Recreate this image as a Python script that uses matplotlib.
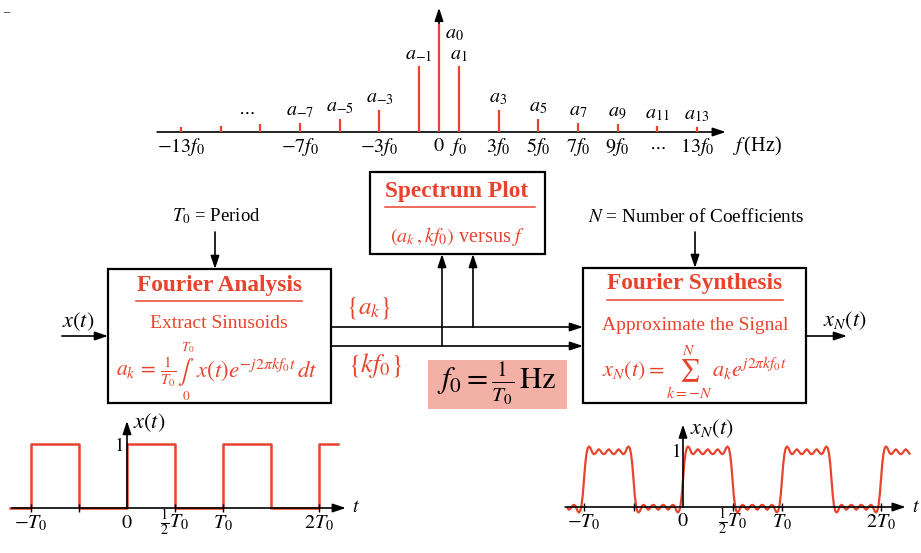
import matplotlib.pyplot as plt
import numpy as np
from matplotlib.patches import Rectangle

plt.rcParams['font.family'] = ['Liberation Serif', 'DejaVu Serif']
plt.rcParams['mathtext.fontset'] = 'stix'

RED = '#e8432d'
SALMON = '#f3b1a5'
W, H = 921, 553

# spectrum: harmonic index k (in units of f0) and stem heights
harmonics = [-13, -11, -9, -7, -5, -3, -1, 0, 1, 3, 5, 7, 9, 11, 13]
amplitudes = [0.025, 0.029, 0.036, 0.043, 0.062, 0.103, 0.304, 0.50,
              0.304, 0.103, 0.062, 0.043, 0.036, 0.029, 0.025]
labelled = [-7, -5, -3, -1, 1, 3, 5, 7, 9, 11, 13]
freq_ticks = [-13, -7, -3, 0, 1, 3, 5, 7, 9, 13]
freq_tick_labels = [r'$-13f_0$', r'$-7f_0$', r'$-3f_0$', r'$0$', r'$f_0$',
                    r'$3f_0$', r'$5f_0$', r'$7f_0$', r'$9f_0$', r'$13f_0$']

# square wave x(t): edge times (in T0) and level after each edge
sq_t = [-1.22, -1.0, -0.5, 0.0, 0.5, 1.0, 1.5, 2.0, 2.2]
sq_v = [0, 1, 0, 1, 0, 1, 0, 1, 1]

# one period of the approximation x_N(t)
xn_t = [-0.0500, -0.0375, -0.0250, -0.0125, 0.0000, 0.0125, 0.0250, 0.0375,
        0.0500, 0.0625, 0.0750, 0.0875, 0.1000, 0.1125, 0.1250, 0.1375,
        0.1500, 0.1625, 0.1750, 0.1875, 0.2000, 0.2125, 0.2250, 0.2375,
        0.2500, 0.2625, 0.2750, 0.2875, 0.3000, 0.3125, 0.3250, 0.3375,
        0.3500, 0.3625, 0.3750, 0.3875, 0.4000, 0.4125, 0.4250, 0.4375,
        0.4500, 0.4625, 0.4750, 0.4875, 0.5000, 0.5125, 0.5250, 0.5375,
        0.5500, 0.5625, 0.5750, 0.5875, 0.6000, 0.6125, 0.6250, 0.6375,
        0.6500, 0.6625, 0.6750, 0.6875, 0.7000, 0.7125, 0.7250, 0.7375,
        0.7500, 0.7625, 0.7750, 0.7875, 0.8000, 0.8125, 0.8250, 0.8375,
        0.8500, 0.8625, 0.8750, 0.8875, 0.9000, 0.9125, 0.9250, 0.9375]
xn_v = [-0.10, -0.07, 0.03, 0.22, 0.50, 0.78, 0.97, 1.07,
        1.10, 1.08, 1.03, 0.98, 0.96, 0.97, 1.00, 1.03,
        1.05, 1.03, 1.00, 0.97, 0.96, 0.97, 1.00, 1.03,
        1.05, 1.03, 1.00, 0.97, 0.96, 0.97, 1.00, 1.03,
        1.05, 1.03, 1.00, 0.97, 0.96, 0.98, 1.03, 1.08,
        1.10, 1.07, 0.97, 0.78, 0.50, 0.22, 0.03, -0.07,
        -0.10, -0.08, -0.03, 0.02, 0.04, 0.03, 0.00, -0.03,
        -0.05, -0.03, 0.00, 0.03, 0.04, 0.03, 0.00, -0.03,
        -0.05, -0.03, 0.00, 0.03, 0.04, 0.03, 0.00, -0.03,
        -0.05, -0.03, 0.00, 0.03, 0.04, 0.02, -0.03, -0.08]
periods = [-2, -1, 0, 1, 2]

t_ticks = [-1, -0.5, 0.5, 1, 2]
t_tick_pos = [-1, 0, 0.5, 1, 2]
t_tick_labels = [r'$-T_0$', r'$0$', r'$\frac{1}{2}T_0$', r'$T_0$', r'$2T_0$']

ARROW = dict(arrowstyle='-|>,head_length=0.6,head_width=0.2', color='k',
             lw=1.2, shrinkA=0, shrinkB=0, mutation_scale=13)


def px_axes(fig, x0, y0, x1, y1, xorig, yorig, sx, sy):
    """axes over a pixel rectangle whose data origin sits at (xorig, yorig)"""
    ax = fig.add_axes([x0 / W, 1 - y1 / H, (x1 - x0) / W, (y1 - y0) / H])
    ax.set_xlim((x0 - xorig) / sx, (x1 - xorig) / sx)
    ax.set_ylim((yorig - y1) / sy, (yorig - y0) / sy)
    ax.axis('off')
    ax.patch.set_visible(False)
    return ax


def arrow(ax, x0, y0, x1, y1):
    ax.annotate('', xy=(x1, y1), xytext=(x0, y0), arrowprops=ARROW)


fig = plt.figure(figsize=(W / 100, H / 100), dpi=100)

# ---- block diagram, drawn in pixel coordinates
ax = fig.add_axes([0, 0, 1, 1])
ax.set_xlim(0, W)
ax.set_ylim(H, 0)
ax.axis('off')

ax.text(6, 12, '–', fontsize=9, ha='center', va='center')

for (x, y, w, h) in [(108, 269, 223, 134), (370, 172, 175, 82), (583, 268, 223, 135)]:
    ax.add_patch(Rectangle((x, y), w, h, fill=False, ec='k', lw=1.6))
ax.add_patch(Rectangle((428, 360), 139, 49, fc=SALMON, ec='none'))

# titles + underline
for txt, cx, cy, x0, x1, uy in [('Fourier Analysis', 219, 286, 136, 302, 301),
                                ('Spectrum Plot', 457, 192, 385, 535, 207),
                                ('Fourier Synthesis', 695, 284, 607, 783, 300)]:
    ax.text(cx, cy, txt, color=RED, fontsize=16.8, fontweight='bold', ha='center', va='center')
    ax.plot([x0, x1], [uy, uy], color=RED, lw=1.1)

ax.text(219, 324, 'Extract Sinusoids', color=RED, fontsize=14, ha='center', va='center')
ax.text(695, 326, 'Approximate the Signal', color=RED, fontsize=14, ha='center', va='center')
ax.text(458, 236, r'$(a_k\,,kf_0)$ versus $f$', color=RED, fontsize=14.5, ha='center', va='center')

# analysis formula, integral limits stacked by hand
ax.text(177, 372, r'$a_k \,=\, \frac{1}{T_0}$', color=RED, fontsize=15.5, ha='right', va='center')
ax.text(186, 372, r'$\int$', color=RED, fontsize=17, ha='center', va='center')
ax.text(188, 348, r'$T_0$', color=RED, fontsize=9.5, ha='center', va='center')
ax.text(186, 396, r'$0$', color=RED, fontsize=9.5, ha='center', va='center')
ax.text(196, 370, r'$x(t)e^{-j2\pi kf_0t}\,dt$', color=RED, fontsize=16.5, ha='left', va='center')

ax.text(694, 372, r'$x_N(t) = \sum_{k=-N}^{N}\, a_k e^{j2\pi kf_0t}$', color=RED,
        fontsize=16, ha='center', va='center')

ax.text(368, 308, r'$\{a_k\}$', color=RED, fontsize=18, ha='center', va='center')
ax.text(375, 366, r'$\{kf_0\}$', color=RED, fontsize=19, ha='center', va='center')
ax.text(497, 384, r'$f_0 = \frac{1}{T_0}\,\mathrm{Hz}$', fontsize=22, ha='center', va='center')

ax.text(216, 216, r'$T_0$ = Period', fontsize=13.5, ha='center', va='center')
ax.text(696, 217, r'$N$ = Number of Coefficients', fontsize=13.8, ha='center', va='center')
ax.text(78, 322, r'$x(t)$', fontsize=16, ha='center', va='center')
ax.text(845, 321, r'$x_N(t)$', fontsize=16, ha='center', va='center')

arrow(ax, 215, 232, 215, 269)
arrow(ax, 695, 232, 695, 268)
arrow(ax, 62, 336, 108, 336)
arrow(ax, 806, 336, 847, 336)
arrow(ax, 331, 327, 583, 327)
arrow(ax, 331, 346, 583, 346)
arrow(ax, 442, 346, 442, 254)
arrow(ax, 473, 327, 473, 254)

# ---- line spectrum
sp = px_axes(fig, 150, 4, 732, 132, 439, 132, 19.85, 216)
sp.annotate('', xy=(14.45, 0), xytext=(-14.2, 0), arrowprops=ARROW)
sp.annotate('', xy=(0, 0.575), xytext=(0, 0), arrowprops=ARROW)
sp.vlines(harmonics, 0, amplitudes, color=RED, lw=1.6, zorder=3)
for k, a in zip(harmonics, amplitudes):
    if k in labelled:
        sp.text(k, a + 0.055, r'$a_{%d}$' % k, fontsize=14.5, ha='center', va='center')
sp.text(0.3, 0.455, r'$a_0$', fontsize=14.5, ha='left', va='center')
sp.text(-9.7, 0.09, r'$\cdots$', fontsize=13, ha='center', va='center')
for k, lab in zip(freq_ticks, freq_tick_labels):
    sp.text(k, -0.069, lab, fontsize=14.5, ha='center', va='center')
sp.text(11, -0.069, r'$\cdots$', fontsize=13, ha='center', va='center')
sp.text(14.8, -0.069, r'$f\,$(Hz)', fontsize=14.5, ha='left', va='center')


def time_axes(x0, x1, xorig, yorig, sx, sy, t_end, y_top, t_start):
    a = px_axes(fig, x0, 412, x1, 535, xorig, yorig, sx, sy)
    a.annotate('', xy=(t_end, 0), xytext=(t_start, 0), arrowprops=ARROW, zorder=4)
    a.annotate('', xy=(0, y_top), xytext=(0, 0), arrowprops=ARROW, zorder=4)
    tick_h = 4 / sy
    a.vlines(t_ticks, -tick_h, tick_h, color='k', lw=1.0, zorder=4)
    for t, lab in zip(t_tick_pos, t_tick_labels):
        a.text(t, -15 / sy, lab, fontsize=14.5, ha='center', va='center')
    a.text(t_end + 10 / sx, 0, r'$t$', fontsize=14, ha='center', va='center')
    return a


# ---- x(t)
xa = time_axes(8, 360, 127, 508, 96, 64, 2.28, 1.36, -1.20)
xa.plot(sq_t, sq_v, drawstyle='steps-post', color=RED, lw=1.8, zorder=3)
xa.text(0.06, 1.33, r'$x(t)$', fontsize=16, ha='left', va='center')
xa.text(-0.04, 0.97, r'$1$', fontsize=13.5, ha='right', va='center')

# ---- x_N(t)
na = time_axes(560, 921, 683, 507, 99, 55, 2.25, 1.50, -1.19)
tt = np.concatenate([np.array(xn_t) + p for p in periods])
vv = np.concatenate([np.array(xn_v) for p in periods])
keep = (tt >= -1.17) & (tt <= 2.29)
na.plot(tt[keep], vv[keep], color=RED, lw=1.6, zorder=3, solid_joinstyle='round')
na.text(0.07, 1.43, r'$x_N(t)$', fontsize=16, ha='left', va='center')
na.text(-0.03, 1.0, r'$1$', fontsize=13.5, ha='right', va='center')

fig.savefig('out.png', dpi=100)
